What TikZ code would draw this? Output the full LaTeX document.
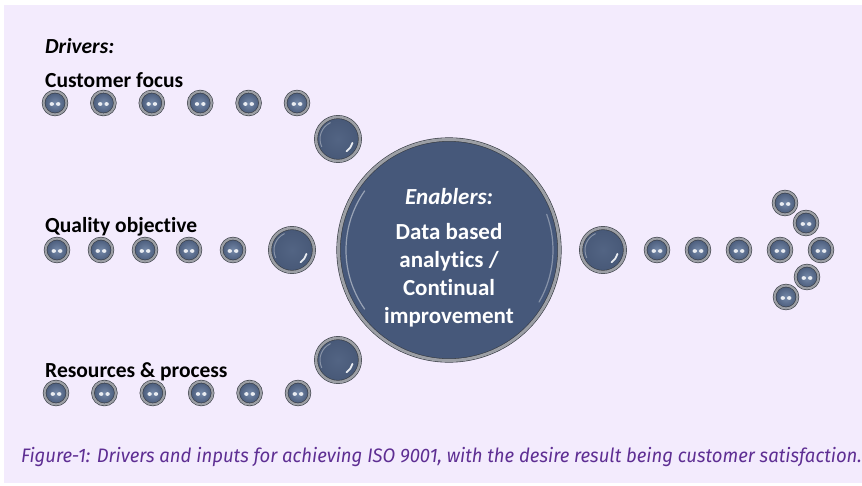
\documentclass[tikz,border=0pt]{standalone}
\usepackage{fontspec}
\newfontfamily\labelfont[Ligatures=NoCommon]{Carlito}
\newfontfamily\captionfont[FakeStretch=0.95]{Fira Sans}
\usetikzlibrary{positioning}

\definecolor{pagebg}{HTML}{F3EBFD}
\definecolor{beadfill}{HTML}{475877}
\definecolor{beadlight}{HTML}{7589A9}
\definecolor{beadring}{HTML}{9C9FA5}
\definecolor{beadedge}{HTML}{363B43}
\definecolor{hubfill}{HTML}{46587A}
\definecolor{captionpurple}{HTML}{5E2E93}

\begin{document}
\begin{tikzpicture}[
		x=1pt, y=-1pt,
		node distance=25pt,
		bead/.style={
			circle,
			minimum size=23pt,
			inner sep=0pt,
			outer sep=0pt,
			draw=beadedge,
			line width=0.6pt,
			double=beadring,
			double distance=2.2pt,
			shading=radial,
			inner color=beadlight,
			outer color=beadfill,
			path picture={
				\fill[white!85!beadlight] ([xshift=-3.2pt,yshift=-1pt]path picture bounding box.center) ellipse (2.2pt and 1.9pt);
				\fill[white!85!beadlight] ([xshift=3.2pt,yshift=-1pt]path picture bounding box.center) ellipse (2.2pt and 1.9pt);
			}
		},
		bigbead/.style={
			bead,
			minimum size=44pt,
			double distance=2.6pt,
			inner color=beadfill!75!beadlight,
			path picture={
				\draw[white!85!beadlight, line width=1.8pt, line cap=round]
				([shift={(-15:15pt)}]path picture bounding box.center) arc[start angle=-15, end angle=-55, radius=15pt];
				\draw[white, opacity=0.35, line width=1pt, line cap=round]
				([shift={(115:18pt)}]path picture bounding box.center) arc[start angle=115, end angle=205, radius=18pt];
			}
		},
		hub/.style={
			circle,
			minimum size=221pt,
			inner sep=0pt,
			outer sep=0pt,
			fill=hubfill,
			draw=beadedge,
			line width=0.6pt,
			double=beadring,
			double distance=3pt,
			path picture={
				\draw[white, opacity=0.45, line width=1.2pt, line cap=round]
				([shift={(145:103pt)}]path picture bounding box.center) arc[start angle=145, end angle=215, radius=103pt];
				\draw[white, opacity=0.35, line width=1.2pt, line cap=round]
				([shift={(-30:104pt)}]path picture bounding box.center) arc[start angle=-30, end angle=20, radius=104pt];
			}
		},
		hubtext/.style={
			text=white,
			align=center,
			inner sep=0pt,
			font=\labelfont\bfseries\fontsize{23}{28}\selectfont
		},
		drivertext/.style={
			anchor=base west,
			inner sep=0pt,
			font=\labelfont\bfseries\fontsize{21.5}{25}\selectfont
		}
		]
		
		% page and frame
		\useasboundingbox (0,0) rectangle (862,485);
		\fill[white] (0,0) rectangle (862,485);
		\fill[pagebg] (4,5) rectangle (862,483);
		
		% labels on the left
		\node[drivertext] (drivers) at (45,53) {\itshape Drivers:};
		\node[drivertext] (custlbl) at (45,87) {Customer focus};
		\node[drivertext] (qualbl) at (45,232) {Quality objective};
		\node[drivertext] (reslbl) at (45,377) {Resources \& process};
		
		% customer focus row
		\node[bead] (cf1) at (55,103) {};
		\node[bead, right=25.4pt of cf1] (cf2) {};
		\node[bead, right=25.4pt of cf2] (cf3) {};
		\node[bead, right=25.4pt of cf3] (cf4) {};
		\node[bead, right=25.4pt of cf4] (cf5) {};
		\node[bead, right=25.4pt of cf5] (cf6) {};
		\node[bigbead] (cfbig) at (338,139) {};
		
		% quality objective row
		\node[bead] (qo1) at (57,250) {};
		\node[bead, right=21pt of qo1] (qo2) {};
		\node[bead, right=21pt of qo2] (qo3) {};
		\node[bead, right=21pt of qo3] (qo4) {};
		\node[bead, right=21pt of qo4] (qo5) {};
		\node[bigbead] (qobig) at (292,250) {};
		
		% resources & process row
		\node[bead] (rp1) at (56,393) {};
		\node[bead, right=25.4pt of rp1] (rp2) {};
		\node[bead, right=25.4pt of rp2] (rp3) {};
		\node[bead, right=25.4pt of rp3] (rp4) {};
		\node[bead, right=25.4pt of rp4] (rp5) {};
		\node[bead, right=25.4pt of rp5] (rp6) {};
		\node[bigbead] (rpbig) at (338,360) {};
		
		% enablers in the middle
		\node[hub] (hub) at (449,250) {};
		\node[hubtext] (enablers) at ([yshift=-8pt]hub.center) {%
			{\itshape Enablers:}\\[7pt]
			Data based\\
			analytics /\\
			Continual\\
			improvement
		};
		
		% output arrow on the right
		\node[bigbead] (outbig) at (603,250) {};
		\node[bead] (out1) at (657,250) {};
		\node[bead, right=18pt of out1] (out2) {};
		\node[bead, right=18pt of out2] (out3) {};
		\node[bead, right=18pt of out3] (out4) {};
		\node[bead, right=18pt of out4] (out5) {};
		\node[bead] (tipa) at (785,203) {};
		\node[bead] (tipb) at (806,223) {};
		\node[bead] (tipc) at (807,277) {};
		\node[bead] (tipd) at (786,297) {};
		
		% caption
		\node[anchor=base west, inner sep=0pt, text=captionpurple,
		font=\captionfont\itshape\fontsize{19.5}{23}\selectfont] (caption) at (21,462)
		{Figure-1: Drivers and inputs for achieving ISO 9001, with the desire result being customer satisfaction.};
		
		\end{tikzpicture}
\end{document}
